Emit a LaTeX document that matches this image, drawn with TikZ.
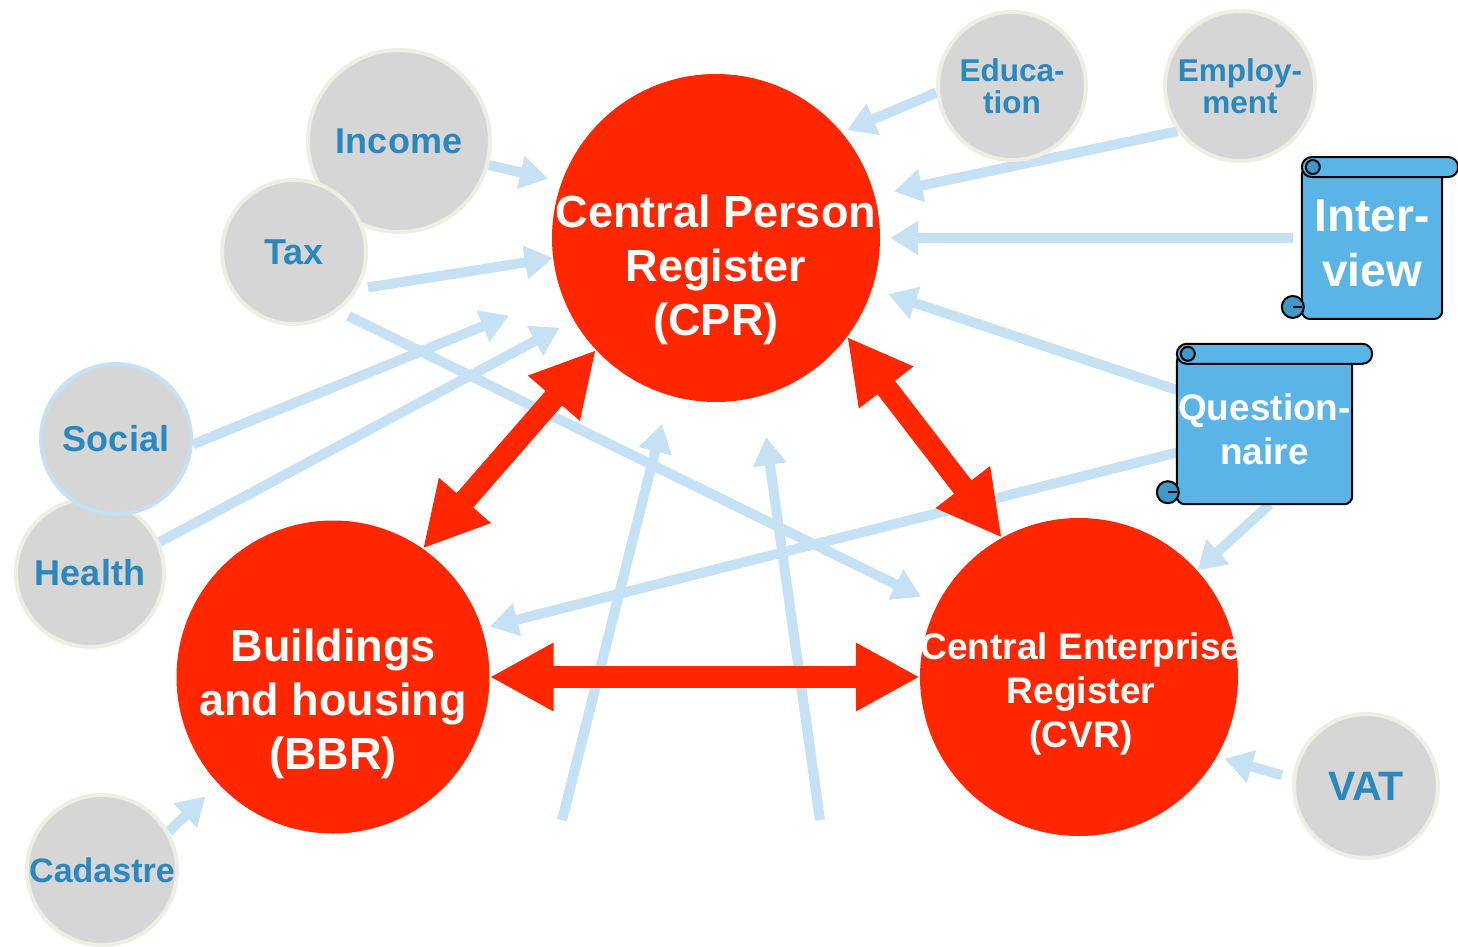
\documentclass[tikz,border=0pt]{standalone}
\usepackage{fontspec}
\setmainfont{Liberation Sans}
\usetikzlibrary{arrows.meta,backgrounds}

\definecolor{regred}{HTML}{FF2600}
\definecolor{srcgray}{HTML}{D6D6D6}
\definecolor{srcedge}{HTML}{EEEEE4}
\definecolor{srcblue}{HTML}{2A88BE}
\definecolor{feedblue}{HTML}{C5E1F3}
\definecolor{scrollblue}{HTML}{5AB4E5}
\definecolor{scrolldark}{HTML}{3F98C9}

\tikzset{
  register/.style={circle, fill=regred, inner sep=0pt},
  regtext/.style={text=white, align=center, font=\bfseries\fontsize{45}{54}\selectfont},
  source/.style={circle, fill=srcgray, draw=srcedge, line width=4pt, inner sep=0pt,
    text=srcblue, align=center, font=\bfseries\fontsize{36}{40}\selectfont},
  feed/.style={draw=feedblue, line width=10pt, -{Triangle[length=28pt,width=32pt]}},
  link/.style={draw=regred, line width=22pt,
    {Triangle[length=64pt,width=64pt]}-{Triangle[length=64pt,width=64pt]}},
  scrollbox/.style={rectangle, inner sep=0pt, text=white, align=center},
  scrollline/.style={draw=black, line width=2pt, fill=scrollblue},
}

% scroll drawn round a node: #1 node, #2 overhang of the top roll
\newcommand{\drawscroll}[2]{%
  \draw[scrollline, rounded corners=8pt] (#1.north west) -- (#1.south west)
    -- (#1.south east) -- (#1.north east) -- cycle;
  \draw[scrollline, rounded corners=10pt] ([yshift=10pt]#1.north west)
    rectangle ([xshift=#2, yshift=-10pt]#1.north east);
  \draw[scrollline, fill=scrolldark] ([xshift=11pt]#1.north west) circle[radius=7pt];
  \draw[scrollline, fill=scrolldark] ([xshift=-9pt, yshift=12pt]#1.south west) circle[radius=11pt];
  \draw[line width=1.5pt] ([xshift=-9pt, yshift=12pt]#1.south west) -- ([yshift=12pt]#1.south west);
}

\begin{document}
\begin{tikzpicture}[x=1pt, y=-1pt]

    \useasboundingbox (0,0) rectangle (1458,947);

    % Source registers (grey circles)
    \node[source, minimum size=182pt] (income) at (399,141) {Income};
    \node[source, minimum size=144pt] (tax) at (294,252) {Tax};
    \node[source, minimum size=148pt] (health) at (90,573) {Health};
    \node[source, minimum size=150pt, draw=feedblue] (social) at (116,439) {Social};
    \node[source, minimum size=150pt, font=\bfseries\fontsize{34}{38}\selectfont] (cadastre) at (102,870) {Cadastre};
    \node[source, minimum size=148pt, font=\bfseries\fontsize{31.5}{32}\selectfont] (education) at (1012,86) {Educa-\\tion};
    \node[source, minimum size=150pt, font=\bfseries\fontsize{31.5}{32}\selectfont] (employment) at (1240,86) {Employ-\\ment};
    \node[source, minimum size=144pt, font=\bfseries\fontsize{41}{44}\selectfont] (vat) at (1366,786) {VAT};

    % Base registers (red circles), text set a little lower than the centre
    \node[register, minimum size=328pt] (cpr) at (716,238) {};
    \node[register, minimum size=313pt] (bbr) at (333,677) {};
    \node[register, minimum size=318pt] (cvr) at (1079,677) {};
    \node[regtext] (cprtext) at (716,270) {Central Person\\Register\\(CPR)};
    \node[regtext] (bbrtext) at (333,704) {Buildings\\and housing\\(BBR)};
    \node[regtext, font=\bfseries\fontsize{37}{44}\selectfont] (cvrtext) at (1081,694) {Central Enterprise\\Register\\(CVR)};

    % Surveys (scrolls)
    \node[scrollbox, minimum width=140pt, minimum height=151.5pt,
      font=\bfseries\fontsize{46}{55}\selectfont] (interview) at (1372,243) {Inter-\\view};
    \node[scrollbox, minimum width=175pt, minimum height=150pt,
      font=\bfseries\fontsize{37}{44}\selectfont] (quest) at (1264.5,429) {Question-\\naire};

    % Free ends of the two lines coming from below
    \coordinate (baseL) at (562,820);
    \coordinate (tipL) at (662,424);
    \coordinate (baseR) at (820,820);
    \coordinate (tipR) at (766,437);

    \begin{scope}[on background layer]
        % Data feeds into the base registers
        \draw[feed, shorten >=14pt] (income.-15) -- (cpr.160);
        \draw[feed, shorten <=10pt] (tax.-30) -- (cpr.187);
        \draw[feed, shorten <=11pt, shorten >=18pt] (tax.-53) -- (cvr.153);
        \draw[feed, shorten >=57pt] (social.-4) -- (cpr.200);
        \draw[feed, shorten >=16pt] (health.24) -- (cpr.210);
        \draw[feed, shorten >=18pt] (cadastre.30) -- (bbr.223);
        \draw[feed, shorten >=6pt] (education.185) -- (cpr.40);
        \draw[feed, shorten >=20pt] (employment.216) -- (cpr.15);
        \draw[feed, shorten <=9pt, shorten >=10pt] (interview.176) -- (cpr.0);
        \draw[feed, shorten >=17pt] (quest.156) -- (cpr.-18);
        \draw[feed, shorten >=8pt] (quest.195) -- (bbr.18);
        \draw[feed] (quest.-86) -- (cvr.42);
        \draw[feed, shorten <=11pt, shorten >=8pt] (vat.174) -- (cvr.-30);
        \draw[feed] (baseL) -- (tipL);
        \draw[feed] (baseR) -- (tipR);

        % The scroll shapes behind their texts
        \drawscroll{interview}{16pt}
        \drawscroll{quest}{20pt}
    \end{scope}

    % Links between the base registers
    \draw[link] (cpr.223) -- (bbr.55);
    \draw[link] (cpr.-37) -- (cvr.119);
    \draw[link] (bbr.0) -- (cvr.180);

\end{tikzpicture}
\end{document}
